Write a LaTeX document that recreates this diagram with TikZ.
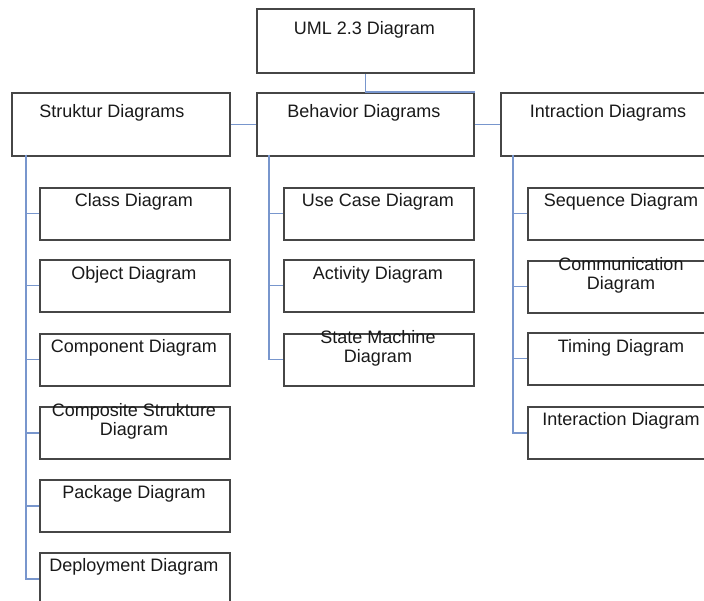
\documentclass[tikz,border=0pt]{standalone}
\usepackage{fontspec}
\setmainfont{Liberation Sans}
\definecolor{boxline}{RGB}{70,70,70}
\definecolor{connline}{RGB}{120,150,205}
\begin{document}
\begin{tikzpicture}[x=1pt,y=-1pt,
  box/.style={draw=boxline,line width=1.8pt,rectangle,inner sep=0pt,anchor=north west,fill=white},
  bigbox/.style={box,minimum width=218pt,minimum height=63pt},
  topbox/.style={box,minimum width=217pt,minimum height=64pt},
  smallbox/.style={box,minimum width=190pt,minimum height=52pt},
  lbl/.style={inner sep=0pt,align=center,font=\fontsize{18}{19}\selectfont,text=black!90},
  conn/.style={draw=connline,line width=1.2pt}]
\path[use as bounding box,clip] (0,0) rectangle (704,601);
\fill[white] (0,0) rectangle (704,601);
\coordinate (sline) at (26,155);
\coordinate (bline) at (269,155);
\coordinate (iline) at (513,155);
% boxes
\node[topbox] (top) at (256,8) {};
\node[bigbox] (stru) at (11,92) {};
\node[bigbox,minimum width=217pt] (beh) at (256,92) {};
\node[bigbox] (intr) at (500,92) {};
\node[smallbox] (class) at (39,187) {};
\node[smallbox] (object) at (39,259) {};
\node[smallbox] (comp) at (39,333) {};
\node[smallbox] (compo) at (39,406) {};
\node[smallbox] (pack) at (39,479) {};
\node[smallbox] (depl) at (39,552) {};
\node[smallbox] (usec) at (283,187) {};
\node[smallbox] (activ) at (283,259) {};
\node[smallbox] (state) at (283,333) {};
\node[smallbox] (seq) at (527,187) {};
\node[smallbox] (comm) at (527,260) {};
\node[smallbox] (timing) at (527,332) {};
\node[smallbox] (inter) at (527,406) {};
% connectors
\draw[conn] (top.south) -- (beh.north) -- (beh.north east);
\draw[conn] (stru.east) -- (beh.west);
\draw[conn] (beh.east) -- (intr.west);
\foreach \c in {class,object,comp,compo,pack,depl}{\draw[conn] (sline) |- (\c.west);}
\foreach \c in {usec,activ,state}{\draw[conn] (bline) |- (\c.west);}
\foreach \c in {seq,comm,timing,inter}{\draw[conn] (iline) |- (\c.west);}
% labels
\node[lbl] (topT) at (364.5,30) {UML 2.3 Diagram};
\node[lbl] (struT) at (112,113) {Struktur Diagrams};
\node[lbl] (behT) at (364,113) {Behavior Diagrams};
\node[lbl] (intrT) at (608,113) {Intraction Diagrams};
\node[lbl] (classT) at (134,202) {Class Diagram};
\node[lbl] (objectT) at (134,275) {Object Diagram};
\node[lbl] (compT) at (134,348) {Component Diagram};
\node[lbl] (compoT) at (134,421.5) {Composite Strukture\\Diagram};
\node[lbl] (packT) at (134,494) {Package Diagram};
\node[lbl] (deplT) at (134,567) {Deployment Diagram};
\node[lbl] (usecT) at (378,202) {Use Case Diagram};
\node[lbl] (activT) at (378,275) {Activity Diagram};
\node[lbl] (stateT) at (378,348.5) {State Machine\\Diagram};
\node[lbl] (seqT) at (621,202) {Sequence Diagram};
\node[lbl] (commT) at (621,275) {Communication\\Diagram};
\node[lbl] (timingT) at (621,348) {Timing Diagram};
\node[lbl] (interT) at (621,421) {Interaction Diagram};
\end{tikzpicture}
\end{document}
